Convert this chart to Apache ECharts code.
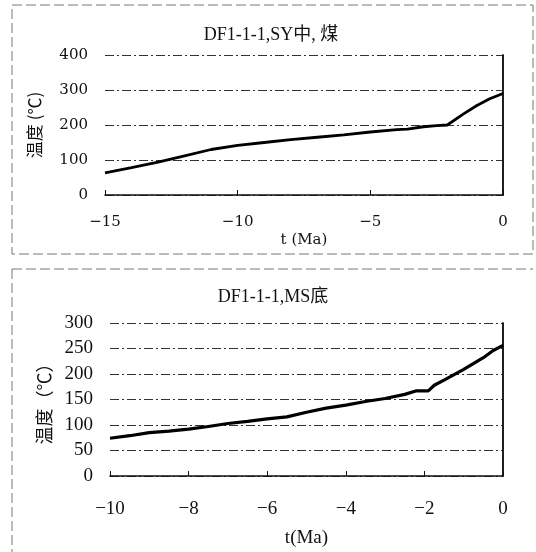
<!DOCTYPE html>
<html><head><meta charset="utf-8">
<script src="https://cdn.jsdelivr.net/npm/echarts@6/dist/echarts.min.js"></script>
<style>html,body{margin:0;padding:0;background:#fff}#c{width:536px;height:552px}</style>
</head><body><div id="c"></div>
<script>
// Top chart: DF1-1-1, SY中, 煤
const topTitle = 'DF1-1-1,SY中, 煤';
const topTime = [-15, -14, -13, -12, -11, -10, -9, -8, -7, -6, -5, -4, -3.6, -3, -2.5, -2.1, -1.5, -1, -0.5, 0];
const topTemp = [63, 78, 94, 112, 130, 142, 150, 158, 165, 172, 180, 187, 188, 195, 198, 200, 231, 255, 275, 290];
const topYTicks = [0, 100, 200, 300, 400];
const topXTicks = [-15, -10, -5, 0];

// Bottom chart: DF1-1-1, MS底
const botTitle = 'DF1-1-1,MS底';
const botTime = [-10, -9.5, -9, -8.5, -8, -7.5, -7, -6.5, -6, -5.5, -5, -4.5, -4, -3.5, -3, -2.5, -2.2, -1.9, -1.75, -1.5, -1, -0.5, -0.25, 0];
const botTemp = [74, 79, 85, 88, 92, 97, 103, 107, 112, 116, 125, 133, 139, 146, 152, 160, 167, 167, 178, 188, 209, 232, 246, 256];
const botYTicks = [0, 50, 100, 150, 200, 250, 300];
const botXTicks = [-10, -8, -6, -4, -2, 0];

const yName1 = '温度 (℃)';
const yName2 = '温度（℃）';
const xName1 = 't (Ma)';
const xName2 = 't(Ma)';

const minus = v => String(v).replace('-', '−');
const dashDot = [9, 3, 2, 3];
const serif = 'Liberation Serif, Noto Sans CJK SC, serif';
const cjk = 'Noto Sans CJK SC, sans-serif';

function xAxis(gi, ticks, name, fs, margin, gap, fam) {
  return {
    type: 'value', gridIndex: gi, min: ticks[0], max: ticks[ticks.length - 1],
    interval: ticks[1] - ticks[0],
    axisLine: { show: true, lineStyle: { color: '#111', width: 1.5 } },
    axisTick: { show: true, inside: true, length: 5, lineStyle: { color: '#111' } },
    splitLine: { show: false },
    axisLabel: { formatter: minus, color: '#111', fontSize: fs, fontFamily: fam, margin: margin },
    name: name, nameLocation: 'middle', nameGap: gap,
    nameTextStyle: { color: '#111', fontSize: fs, fontFamily: fam }
  };
}
function yAxis(gi, ticks, name, fs, margin, gap, nfs, fam) {
  return {
    type: 'value', gridIndex: gi, min: ticks[0], max: ticks[ticks.length - 1],
    interval: ticks[1] - ticks[0],
    axisLine: { show: true, lineStyle: { color: '#111', width: 1.5 } },
    axisTick: { show: false },
    splitLine: { show: true, lineStyle: { color: '#333', width: 1, type: dashDot } },
    axisLabel: { color: '#111', fontSize: fs, fontFamily: fam, margin: margin },
    name: name, nameLocation: 'middle', nameGap: gap, nameRotate: 90,
    nameTextStyle: { color: '#111', fontSize: nfs, fontFamily: cjk }
  };
}
function rightAxis(gi, ticks) {
  return {
    type: 'value', gridIndex: gi, position: 'right', min: ticks[0], max: ticks[ticks.length - 1],
    axisLine: { show: true, lineStyle: { color: '#111', width: 1.5 } },
    axisTick: { show: false }, axisLabel: { show: false }, splitLine: { show: false }
  };
}

const chart = echarts.init(document.getElementById('c'), null, { renderer: 'canvas' });
const frame = { stroke: '#777', lineWidth: 1, lineDash: [10, 4] };
chart.setOption({
  animation: false,
  backgroundColor: '#fff',
  title: [
    { text: topTitle, left: 266, top: 21, textAlign: 'center',
      textStyle: { fontSize: 18, fontWeight: 'normal', color: '#111', fontFamily: serif } },
    { text: botTitle, left: 268, top: 283, textAlign: 'center',
      textStyle: { fontSize: 18, fontWeight: 'normal', color: '#111', fontFamily: serif } }
  ],
  grid: [
    { left: 105, right: 33, top: 55, height: 140 },
    { left: 110, right: 33, top: 323, height: 153 }
  ],
  xAxis: [
    xAxis(0, topXTicks, xName1, 15, 20, 38, 'DejaVu Serif, serif'),
    xAxis(1, botXTicks, xName2, 19, 24, 53, serif)
  ],
  yAxis: [
    yAxis(0, topYTicks, yName1, 15, 17, 62, 17, 'DejaVu Serif, serif'),
    yAxis(1, botYTicks, yName2, 19, 17, 56, 18, serif),
    rightAxis(0, topYTicks),
    rightAxis(1, botYTicks)
  ],
  series: [
    { type: 'line', xAxisIndex: 0, yAxisIndex: 0, data: topTime.map((t, i) => [t, topTemp[i]]),
      showSymbol: false, lineStyle: { color: '#000', width: 2.8 } },
    { type: 'line', xAxisIndex: 1, yAxisIndex: 1, data: botTime.map((t, i) => [t, botTemp[i]]),
      showSymbol: false, lineStyle: { color: '#000', width: 3.2 } }
  ],
  graphic: [
    { type: 'rect', shape: { x: 12, y: 5, width: 521, height: 249 }, style: Object.assign({ fill: 'none' }, frame), silent: true },
    { type: 'line', shape: { x1: 12, y1: 269, x2: 533, y2: 269 }, style: frame, silent: true },
    { type: 'line', shape: { x1: 12, y1: 269, x2: 12, y2: 560 }, style: frame, silent: true }
  ]
});
</script></body></html>
